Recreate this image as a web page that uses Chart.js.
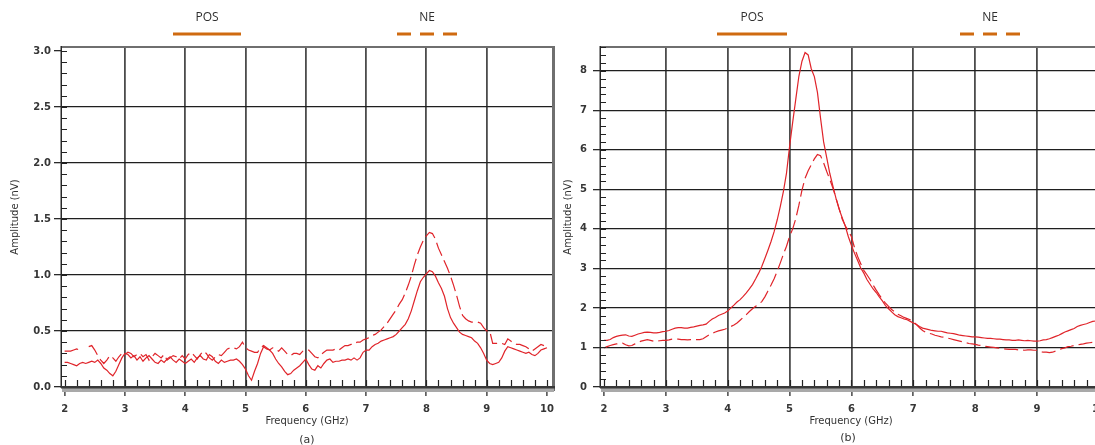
<!DOCTYPE html>
<html>
<head>
<meta charset="utf-8">
<script src="https://cdn.jsdelivr.net/npm/chart.js@4/dist/chart.umd.min.js"></script>
<style>
  html, body { margin: 0; padding: 0; background: #fff; width: 1095px; height: 445px; overflow: hidden; position: relative; }
  canvas { position: absolute; top: 0; }
  #panelA { left: 0; }
  #panelB { left: 545px; }
  .cap { position: absolute; width: 30px; text-align: center; font: 11px "DejaVu Sans", sans-serif; color: #333; line-height: 14px; }
</style>
</head>
<body>
<canvas id="panelA" width="560" height="445"></canvas>
<canvas id="panelB" width="600" height="445"></canvas>
<div class="cap" style="left:292px; top:433px;">(a)</div>
<div class="cap" style="left:833px; top:431px;">(b)</div>
<script>
// Frequency grid (GHz) shared by both panels
const freq = [
  2, 2.05, 2.1, 2.15, 2.2, 2.25, 2.3, 2.35, 2.4, 2.45, 2.5, 2.55, 2.6, 2.65, 2.7, 2.75, 2.8, 2.85, 2.9, 2.95,
  3, 3.05, 3.1, 3.15, 3.2, 3.25, 3.3, 3.35, 3.4, 3.45, 3.5, 3.55, 3.6, 3.65, 3.7, 3.75, 3.8, 3.85, 3.9, 3.95,
  4, 4.05, 4.1, 4.15, 4.2, 4.25, 4.3, 4.35, 4.4, 4.45, 4.5, 4.55, 4.6, 4.65, 4.7, 4.75, 4.8, 4.85, 4.9, 4.95,
  5, 5.05, 5.1, 5.15, 5.2, 5.25, 5.3, 5.35, 5.4, 5.45, 5.5, 5.55, 5.6, 5.65, 5.7, 5.75, 5.8, 5.85, 5.9, 5.95,
  6, 6.05, 6.1, 6.15, 6.2, 6.25, 6.3, 6.35, 6.4, 6.45, 6.5, 6.55, 6.6, 6.65, 6.7, 6.75, 6.8, 6.85, 6.9, 6.95,
  7, 7.05, 7.1, 7.15, 7.2, 7.25, 7.3, 7.35, 7.4, 7.45, 7.5, 7.55, 7.6, 7.65, 7.7, 7.75, 7.8, 7.85, 7.9, 7.95,
  8, 8.05, 8.1, 8.15, 8.2, 8.25, 8.3, 8.35, 8.4, 8.45, 8.5, 8.55, 8.6, 8.65, 8.7, 8.75, 8.8, 8.85, 8.9, 8.95,
  9, 9.05, 9.1, 9.15, 9.2, 9.25, 9.3, 9.35, 9.4, 9.45, 9.5, 9.55, 9.6, 9.65, 9.7, 9.75, 9.8, 9.85, 9.9, 9.95,
  10
];

// Panel (a): amplitude in nV
const posA = [
  0.22, 0.22, 0.21, 0.20, 0.19, 0.21, 0.22, 0.21, 0.22, 0.23, 0.22, 0.24, 0.21, 0.17, 0.15, 0.12, 0.10, 0.14, 0.20, 0.26,
  0.30, 0.29, 0.26, 0.28, 0.24, 0.27, 0.23, 0.26, 0.28, 0.25, 0.22, 0.21, 0.24, 0.22, 0.25, 0.27, 0.24, 0.22, 0.25, 0.23,
  0.21, 0.23, 0.25, 0.22, 0.26, 0.28, 0.25, 0.24, 0.29, 0.27, 0.23, 0.21, 0.24, 0.22, 0.23, 0.24, 0.24, 0.25, 0.23, 0.20,
  0.16, 0.10, 0.06, 0.14, 0.21, 0.30, 0.36, 0.34, 0.33, 0.30, 0.25, 0.21, 0.18, 0.14, 0.11, 0.12, 0.15, 0.17, 0.19, 0.22,
  0.25, 0.20, 0.16, 0.15, 0.19, 0.17, 0.21, 0.24, 0.25, 0.22, 0.23, 0.23, 0.24, 0.24, 0.25, 0.24, 0.26, 0.24, 0.26, 0.31,
  0.33, 0.33, 0.36, 0.38, 0.39, 0.41, 0.42, 0.43, 0.44, 0.45, 0.47, 0.50, 0.53, 0.56, 0.61, 0.68, 0.77, 0.86, 0.94, 0.98,
  1.01, 1.04, 1.03, 0.99, 0.93, 0.88, 0.81, 0.70, 0.62, 0.57, 0.53, 0.49, 0.47, 0.46, 0.45, 0.44, 0.41, 0.39, 0.35, 0.30,
  0.24, 0.21, 0.20, 0.21, 0.22, 0.26, 0.32, 0.36, 0.35, 0.34, 0.33, 0.32, 0.31, 0.30, 0.31, 0.29, 0.28, 0.30, 0.33, 0.34,
  0.35
];
const neA = [
  0.32, 0.32, 0.32, 0.33, 0.34, 0.33, 0.34, null, 0.36, 0.37, 0.33, 0.28, 0.24, 0.21, 0.24, 0.28, 0.26, 0.23, 0.27, 0.30,
  0.29, 0.31, 0.30, 0.27, 0.29, 0.30, 0.27, 0.29, 0.24, 0.27, 0.30, 0.28, 0.26, 0.29, 0.24, 0.26, 0.28, 0.27, 0.25, 0.28,
  0.25, 0.29, 0.31, 0.28, 0.25, 0.29, 0.32, 0.30, 0.26, 0.24, 0.27, 0.29, 0.28, 0.31, 0.34, 0.35, 0.35, 0.34, 0.36, 0.40,
  0.35, 0.33, 0.32, 0.31, 0.31, 0.35, 0.37, 0.35, 0.33, 0.35, 0.34, 0.32, 0.35, 0.32, 0.29, 0.28, 0.30, 0.30, 0.29, 0.32,
  0.33, 0.33, 0.30, 0.27, 0.26, 0.29, 0.31, 0.33, 0.33, 0.33, 0.34, 0.33, 0.35, 0.37, 0.37, 0.38, 0.38, 0.40, 0.40, 0.42,
  0.43, 0.44, 0.46, 0.47, 0.49, 0.51, 0.54, 0.57, 0.61, 0.65, 0.69, 0.74, 0.78, 0.84, 0.91, 0.99, 1.09, 1.18, 1.25, 1.31,
  1.35, 1.38, 1.37, 1.32, 1.24, 1.18, 1.12, 1.06, 0.99, 0.91, 0.82, 0.72, 0.64, 0.61, 0.59, 0.58, 0.58, 0.58, 0.57, 0.53,
  0.50, 0.50, 0.39, 0.39, 0.39, 0.39, 0.38, 0.43, 0.41, 0.39, 0.38, 0.38, 0.37, 0.36, 0.34, 0.32, 0.34, 0.36, 0.38, 0.37,
  null
];

// Panel (b): amplitude in nV
const posB = [
  1.18, 1.18, 1.20, 1.25, 1.28, 1.30, 1.31, 1.32, 1.29, 1.28, 1.31, 1.34, 1.36, 1.38, 1.39, 1.38, 1.37, 1.37, 1.38, 1.40,
  1.41, 1.43, 1.46, 1.49, 1.50, 1.50, 1.49, 1.49, 1.51, 1.52, 1.54, 1.56, 1.57, 1.59, 1.66, 1.72, 1.76, 1.81, 1.84, 1.87,
  1.92, 2.00, 2.07, 2.15, 2.21, 2.29, 2.38, 2.48, 2.59, 2.73, 2.88, 3.05, 3.25, 3.46, 3.68, 3.93, 4.23, 4.57, 4.95, 5.41,
  6.09, 6.70, 7.28, 7.86, 8.24, 8.46, 8.40, 8.05, 7.85, 7.45, 6.80, 6.20, 5.80, 5.40, 5.08, 4.77, 4.50, 4.28, 4.07, 3.80,
  3.58, 3.38, 3.20, 3.01, 2.88, 2.72, 2.60, 2.48, 2.39, 2.28, 2.18, 2.06, 1.98, 1.90, 1.83, 1.78, 1.75, 1.72, 1.70, 1.66,
  1.62, 1.58, 1.53, 1.49, 1.47, 1.45, 1.43, 1.42, 1.41, 1.41, 1.39, 1.37, 1.36, 1.35, 1.33, 1.31, 1.30, 1.29, 1.28, 1.27,
  1.27, 1.26, 1.25, 1.24, 1.23, 1.23, 1.22, 1.21, 1.21, 1.20, 1.19, 1.19, 1.18, 1.18, 1.19, 1.18, 1.17, 1.18, 1.17, 1.16,
  1.16, 1.17, 1.19, 1.20, 1.22, 1.25, 1.28, 1.31, 1.35, 1.39, 1.42, 1.45, 1.48, 1.53, 1.56, 1.58, 1.60, 1.63, 1.66, 1.67,
  1.67
];
const neB = [
  0.99, 1.02, 1.05, 1.07, 1.09, 1.10, 1.11, 1.07, 1.04, 1.05, 1.09, 1.13, 1.16, 1.18, 1.20, 1.18, 1.16, 1.16, 1.17, 1.18,
  1.18, 1.19, 1.21, 1.22, 1.21, 1.20, 1.20, 1.19, 1.20, 1.20, 1.20, 1.20, 1.22, 1.27, 1.32, 1.36, 1.39, 1.42, 1.44, 1.46,
  1.49, 1.53, 1.57, 1.62, 1.69, 1.76, 1.83, 1.91, 1.98, 2.04, 2.09, 2.16, 2.28, 2.43, 2.58, 2.74, 2.93, 3.14, 3.36, 3.56,
  3.81, 4.00, 4.26, 4.60, 4.98, 5.28, 5.47, 5.62, 5.77, 5.88, 5.85, 5.67, 5.45, 5.25, 5.03, 4.78, 4.52, 4.25, 4.08, 3.95,
  3.80, 3.52, 3.30, 3.12, 2.95, 2.84, 2.72, 2.58, 2.45, 2.33, 2.22, 2.12, 2.04, 1.96, 1.90, 1.84, 1.80, 1.76, 1.73, 1.70,
  1.65, 1.58, 1.50, 1.43, 1.38, 1.36, 1.34, 1.31, 1.29, 1.27, 1.26, 1.24, 1.22, 1.20, 1.18, 1.16, 1.14, 1.12, 1.10, 1.09,
  1.08, 1.06, 1.05, 1.03, 1.02, 1.01, 1.00, 0.99, 0.98, 0.97, 0.96, 0.95, 0.95, 0.95, 0.94, 0.94, 0.93, 0.94, 0.94, 0.93,
  0.93, 0.90, 0.88, 0.88, 0.87, 0.88, 0.91, 0.94, 0.97, 0.99, 1.02, 1.03, 1.05, 1.06, 1.08, 1.09, 1.11, 1.12, 1.13, 1.14,
  1.14
];

const seriesNames = ['POS', 'NE'];
const xTicksMajor = { min: 2, max: 10, step: 1, minor: 0.2 };

const LINE_RED = '#e0242a';
const LEGEND_ORANGE = '#cf6a10';
const TICK_FONT = { family: 'DejaVu Sans', size: 10, weight: 'bold' };
const TITLE_FONT = { family: 'DejaVu Sans', size: 10 };

function toPoints(values) {
  return freq.map((f, i) => ({ x: f, y: values[i] }));
}

// Frame, inner minor ticks and the shaded bottom axis bar
const panelFrame = {
  id: 'panelFrame',
  afterDatasetsDraw(chart, args, opts) {
    const { ctx, chartArea: a, scales } = chart;
    const xs = scales.x, ys = scales.y;
    ctx.save();
    // top edge
    ctx.fillStyle = '#6f6f6f';
    ctx.fillRect(a.left, a.top - 1, a.right - a.left, 2);
    // right edge
    if (opts.rightEdge) {
      ctx.fillStyle = '#6f6f6f';
      ctx.fillRect(a.right - 1, a.top - 1, 3, a.bottom - a.top + 5);
    }
    // left axis line
    ctx.fillStyle = '#2a2a2a';
    ctx.fillRect(a.left - 0.5, a.top - 1, 1.5, a.bottom - a.top + 2);

    ctx.strokeStyle = '#222';
    ctx.lineWidth = 1.2;
    ctx.beginPath();
    // inner ticks along the amplitude axis
    const nY = Math.round((ys.max - ys.min) / opts.minorY);
    for (let k = 0; k <= nY; k++) {
      const v = ys.min + k * opts.minorY;
      if (v > ys.max + 1e-9) break;
      const py = Math.round(ys.getPixelForValue(v)) + 0.5;
      ctx.moveTo(a.left, py);
      ctx.lineTo(a.left + 6, py);
    }
    // inner ticks along the frequency axis
    const nX = Math.round((xTicksMajor.max - xTicksMajor.min) / xTicksMajor.minor);
    for (let k = 0; k <= nX; k++) {
      const v = xTicksMajor.min + k * xTicksMajor.minor;
      const px = Math.round(xs.getPixelForValue(v)) + 0.5;
      ctx.moveTo(px, a.bottom);
      ctx.lineTo(px, a.bottom - 7);
    }
    ctx.stroke();

    // bottom axis bar with its shadow
    ctx.fillStyle = '#a9a9a9';
    ctx.fillRect(a.left + 1, a.bottom + 1, a.right - a.left, 4);
    ctx.fillStyle = '#383838';
    ctx.fillRect(a.left, a.bottom - 1, a.right - a.left + (opts.rightEdge ? 2 : 0), 2.5);
    ctx.restore();
  }
};

// Series key drawn above the plot: name over a sample of the line style
const topKey = {
  id: 'topKey',
  afterDraw(chart, args, opts) {
    const ctx = chart.ctx;
    chart.data.datasets.forEach((ds, i) => {
      const item = opts.items[i];
      ctx.save();
      ctx.font = '12px "Open Sans"';
      ctx.fillStyle = '#2f2f2f';
      ctx.textAlign = 'center';
      ctx.textBaseline = 'middle';
      ctx.fillText(ds.label, item.x, opts.textY);
      ctx.strokeStyle = LEGEND_ORANGE;
      ctx.lineWidth = 3;
      ctx.lineCap = 'butt';
      ctx.setLineDash(ds.borderDash && ds.borderDash.length ? [14, 9] : []);
      ctx.beginPath();
      ctx.moveTo(item.x - item.w / 2, opts.lineY);
      ctx.lineTo(item.x + item.w / 2, opts.lineY);
      ctx.stroke();
      ctx.restore();
    });
  }
};

function makePanel(canvasId, cfg) {
  return new Chart(document.getElementById(canvasId), {
    type: 'line',
    data: {
      datasets: [
        { label: seriesNames[0], data: toPoints(cfg.pos), borderColor: LINE_RED, borderWidth: 1.2,
          pointRadius: 0, tension: 0, spanGaps: false },
        { label: seriesNames[1], data: toPoints(cfg.ne), borderColor: LINE_RED, borderWidth: 1.2,
          borderDash: [14, 5], pointRadius: 0, tension: 0, spanGaps: false }
      ]
    },
    options: {
      responsive: false,
      animation: false,
      devicePixelRatio: 1,
      layout: { padding: cfg.padding },
      scales: {
        x: {
          type: 'linear',
          min: cfg.xMin,
          max: cfg.xMax,
          border: { display: false },
          afterFit(scale) { scale.height = 45; scale.paddingLeft = 0; scale.paddingRight = 0; },
          ticks: {
            stepSize: xTicksMajor.step,
            includeBounds: false,
            autoSkip: false,
            maxRotation: 0,
            padding: 7,
            color: '#363636',
            font: TICK_FONT
          },
          grid: {
            color: (c) => (c.tick && (c.tick.value <= xTicksMajor.min || c.tick.value >= xTicksMajor.max)) ? 'rgba(0,0,0,0)' : '#4c4c4c',
            lineWidth: 1.8,
            tickColor: '#2a2a2a',
            tickWidth: 1.3,
            tickLength: 9
          },
          title: { display: true, text: 'Frequency (GHz)', color: '#333', font: TITLE_FONT, padding: { top: 0, bottom: 5 } }
        },
        y: {
          min: 0,
          max: cfg.yMax,
          border: { display: false },
          afterFit(scale) { scale.width = cfg.yWidth; scale.paddingTop = 0; scale.paddingBottom = 0; },
          ticks: {
            stepSize: cfg.yStep,
            includeBounds: false,
            padding: cfg.yLabelPad,
            color: '#363636',
            font: TICK_FONT,
            callback: (v) => cfg.yFmt(v)
          },
          grid: {
            color: (c) => (c.tick && cfg.hideGrid.includes(c.tick.value)) ? 'rgba(0,0,0,0)' : '#1f1f1f',
            lineWidth: 1.3,
            tickColor: '#2a2a2a',
            tickWidth: 1.3,
            tickLength: 7
          },
          title: { display: true, text: 'Amplitude (nV)', color: '#333', font: TITLE_FONT, padding: { top: cfg.yTitlePad, bottom: 0 } }
        }
      },
      plugins: {
        legend: { display: false },
        tooltip: { enabled: false },
        panelFrame: { rightEdge: cfg.rightEdge, minorY: cfg.yMinor },
        topKey: { items: cfg.keyItems, textY: 18, lineY: 34 }
      }
    },
    plugins: [panelFrame, topKey]
  });
}

makePanel('panelA', {
  pos: posA, ne: neA,
  padding: { top: 47, left: 0, right: 7, bottom: 13 },
  xMin: 1.94, xMax: 10.1,
  yMax: 3.036, yStep: 0.5, yMinor: 0.1, yWidth: 61, yLabelPad: 3, yTitlePad: 9,
  yFmt: (v) => v.toFixed(1),
  hideGrid: [0, 3],
  rightEdge: true,
  keyItems: [{ x: 207, w: 68 }, { x: 427, w: 60 }]
});

makePanel('panelB', {
  pos: posB, ne: neB,
  padding: { top: 47, left: 0, right: 43, bottom: 13 },
  xMin: 1.935, xMax: 10.05,
  yMax: 8.6, yStep: 1, yMinor: 0.2, yWidth: 55, yLabelPad: 6, yTitlePad: 17,
  yFmt: (v) => String(v),
  hideGrid: [0],
  rightEdge: false,
  keyItems: [{ x: 207, w: 70 }, { x: 445, w: 60 }]
});
</script>
</body>
</html>
